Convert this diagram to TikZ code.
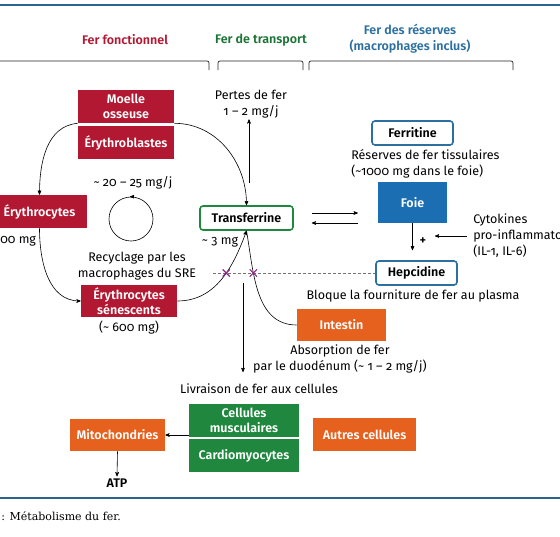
\documentclass[tikz,border=0pt]{standalone}
\usepackage{fontspec}
\setmainfont{Fira Sans}[Numbers=OldStyle, BoldFont={Fira Sans SemiBold}]
\newfontfamily\capfont{DejaVu Serif}
\usetikzlibrary{%
  arrows,%
  positioning,%
  calc,%
  intersections,% wg. the crosses
  shapes.misc% wg. cross out
}
\definecolor{ferred}{RGB}{178,24,50}
\definecolor{fergreen}{RGB}{32,136,62}
\definecolor{ferblue}{RGB}{28,110,178}
\definecolor{ferframe}{RGB}{44,112,160}
\definecolor{ferorange}{RGB}{230,96,30}
\definecolor{ferpurple}{RGB}{140,40,130}
\definecolor{ferline}{RGB}{45,100,140}
\newcommand\fersize{\fontsize{12.5}{16}\selectfont}
\newcommand\tld{\textasciitilde}

\begin{document}
\begin{tikzpicture}[
  x=1pt,y=-1pt,
  font=\fersize,
  >=stealth',
  line width=0.6pt,
  redbox/.style={fill=ferred, text=white, font=\fersize\bfseries, align=center,
    inner sep=0pt, minimum height=33},
  greenbox/.style={redbox, fill=fergreen},
  orangebox/.style={redbox, fill=ferorange},
  bluebox/.style={redbox, fill=ferblue},
  framebox/.style={draw=ferframe, line width=1.6pt, rounded corners=3pt, fill=white,
    font=\fersize\bfseries, inner sep=0pt, minimum height=24},
  lbl/.style={align=center, inner sep=1pt},
  header/.style={font=\fersize\bfseries, align=center, inner sep=0pt},
  bracket/.style={black!85, line width=0.7pt, rounded corners=2pt},
  dashline/.style={gray!90!black, dash pattern=on 3pt off 2pt, line width=0.6pt},
  crossmark/.style={cross out, draw=ferpurple, line width=1.2pt, minimum size=6pt, inner sep=0pt},
]
\useasboundingbox (0,0) rectangle (560,536);

% frame lines
\draw[ferline, line width=2pt] (0,5) -- (560,5);
\draw[ferline, line width=2pt] (0,498) -- (560,498);

% headers
\node[header, text=ferred] (hfonct) at (125,40) {Fer fonctionnel};
\node[header, text=fergreen!85!black] (htrans) at (261,40) {Fer de transport};
\node[header, text=ferframe] (hres) at (410,38.5) {Fer des réserves\\(macrophages inclus)};
\draw[bracket] (-10,61) -- (209,61) -- (209,70);
\draw[bracket] (218,70) -- (218,61) -- (303,61) -- (303,70);
\draw[bracket] (309,70) -- (309,61) -- (513,61) -- (513,70);

% functional iron
\node[redbox, minimum width=96] (moelle) at (126,106.5) {Moelle\\[-1pt]osseuse};
\node[redbox, minimum width=96] (blastes) at (126,142.5) {Érythroblastes};
\node[redbox, minimum width=95] (erythro) at (39.5,211.5) {Érythrocytes};
\node[anchor=west, inner sep=0pt] (erymass) at (0,241) {00 mg};
\node[redbox, minimum width=96, minimum height=32] (senes) at (129,301) {Érythrocytes\\[-1pt]sénescents};
\node[lbl] (senmass) at (129,328) {(\tld{} 600 mg)};

\node[circle, draw, minimum size=44, inner sep=0pt] (recycle) at (131,219) {};
\draw[->] ([xshift=3pt]recycle.north) -- ([xshift=-1pt]recycle.north);
\node[lbl] (recrate) at (133,183) {\tld{} 20 – 25 mg/j};
\node[lbl] (recsre) at (137,266.5) {Recyclage par les\\macrophages du SRE};

% transport
\node[framebox, draw=fergreen, minimum width=93] (transf) at (246.5,218) {Transferrine};
\node[lbl] (transmass) at (220,242) {\tld{} 3 mg};
\node[lbl] (pertes) at (251,104) {Pertes de fer\\1 – 2 mg/j};
\coordinate (pertesbot) at (249,183);
\draw[->] (pertesbot) -- (pertesbot |- pertes.south);

\draw[->] (moelle.south west) to[out=185, in=90] (erythro.north);
\draw[->] (erythro.south) to[out=270, in=180] (senes.west);
\draw[->] (moelle.south east) to[out=0, in=90] (transf.north);
\draw[->, name path=senescurve] (senes.east) to[out=0, in=250] (transf.south);

% reserves
\node[framebox, minimum width=81] (ferritine) at (412.5,133) {Ferritine};
\node[anchor=west, align=left, inner sep=0pt] (tissu) at (351,163.5) {Réserves de fer tissulaires\\(\tld1000 mg dans le foie)};
\node[bluebox, minimum width=69, minimum height=41] (foie) at (412.5,202.5) {Foie};
\draw[->] ([shift={(18,-5)}]transf.east) -- ++(46,0);
\draw[<-] ([shift={(18,5)}]transf.east) -- ++(46,0);

\node[framebox, minimum width=81] (hepc) at (416.5,273) {Hepcidine};
\node[lbl] (bloque) at (413,296) {Bloque la fourniture de fer au plasma};
\draw[->, shorten >=10pt] (foie.south) -- (foie.south |- hepc.north);
\node[inner sep=0pt, font=\fersize\bfseries] (plus) at (423,241) {+};
\node[anchor=west, align=left, inner sep=0pt] (cyto) at (473,236) {Cytokines\\pro-inflammato\\(IL-1, IL-6)};
\draw[->, shorten <=6pt] (cyto.west) -- ++(-38,0);

% intestine
\node[orangebox, minimum width=89, minimum height=32] (intestin) at (341.5,325) {Intestin};
\node[lbl] (absorb) at (340,359) {Absorption de fer\\par le duodénum (\tld{} 1 – 2 mg/j)};
\draw[name path=intcurve] (intestin.west) to[out=180, in=280] (transf.south);

% hepcidine block
\coordinate (dashstart) at (213,273);
\draw[dashline, name path=dashpath] (dashstart) -- (hepc.west);
\path[name intersections={of=senescurve and dashpath, by=xsen}];
\path[name intersections={of=intcurve and dashpath, by=xint}];
\node[crossmark] (crosssen) at (xsen) {};
\node[crossmark] (crossint) at (xint) {};

% delivery
\coordinate (livtop) at (243,283);
\coordinate (livbot) at (243,372);
\draw[->] (livtop) -- (livbot);
\node[lbl] (livraison) at (259,389) {Livraison de fer aux cellules};
\node[greenbox, minimum width=110] (muscle) at (244,420.5) {Cellules\\[-1pt]musculaires};
\node[greenbox, minimum width=110] (cardio) at (244,455.5) {Cardiomyocytes};
\node[orangebox, minimum width=95, minimum height=32] (mito) at (117.5,435) {Mitochondries};
\node[orangebox, minimum width=103] (autres) at (364.5,434.5) {Autres cellules};
\draw[->] (mito.east -| muscle.west) -- (mito.east);
\node[header] (atp) at (117,483) {ATP};
\draw[->] (mito.south) -- ([yshift=2pt]atp.north);

% caption
\node[anchor=west, inner sep=0pt, font=\capfont\fontsize{11}{13}\selectfont] (caption) at (1,516) {: Métabolisme du fer.};
\end{tikzpicture}
\end{document}
